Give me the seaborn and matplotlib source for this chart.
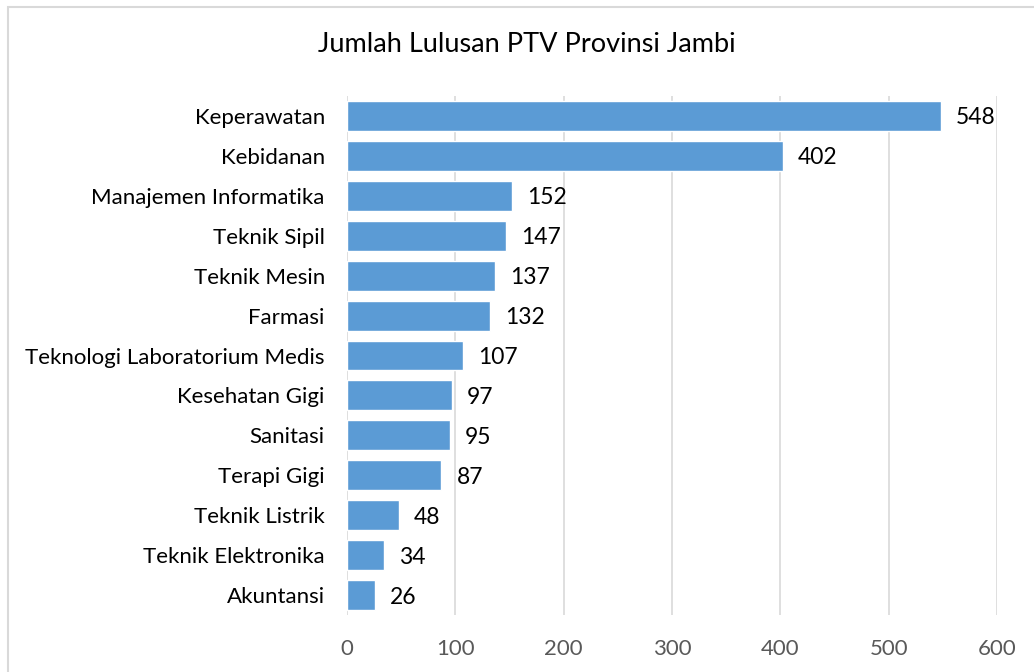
import matplotlib
matplotlib.use("Agg")
import matplotlib.pyplot as plt
import seaborn as sns
import pandas as pd
from matplotlib.patches import Rectangle

programs = ["Keperawatan", "Kebidanan", "Manajemen Informatika", "Teknik Sipil",
            "Teknik Mesin", "Farmasi", "Teknologi Laboratorium Medis", "Kesehatan Gigi",
            "Sanitasi", "Terapi Gigi", "Teknik Listrik", "Teknik Elektronika", "Akuntansi"]
graduates = [548, 402, 152, 147, 137, 132, 107, 97, 95, 87, 48, 34, 26]
x_ticks = [0, 100, 200, 300, 400, 500, 600]

sns.set_style("white")
plt.rcParams['font.family'] = ['Lato', 'DejaVu Sans']

df = pd.DataFrame({"program": programs, "lulusan": graduates})

fig = plt.figure(figsize=(10.34, 6.72), dpi=100)
ax = fig.add_axes([347/1034, 1 - 615/672, 650/1034, (615 - 96)/672])

sns.barplot(data=df, y="program", x="lulusan", color="#5B9BD5", saturation=1,
            width=0.75, ax=ax, zorder=3)

ax.set_xlim(0, 600)
ax.set_ylim(len(programs) - 0.5, -0.5)
ax.set_xticks(x_ticks)
ax.set_xticklabels([str(t) for t in x_ticks], fontsize=16, color="#595959")
ax.tick_params(axis="x", length=0, pad=17)
ax.tick_params(axis="y", length=0, pad=16, labelsize=16, labelcolor="black")
ax.grid(axis="x", color="#D9D9D9", linewidth=1.2, zorder=0)
for s in ax.spines.values():
    s.set_visible(False)
ax.set_xlabel("")
ax.set_ylabel("")

for i, v in enumerate(graduates):
    ax.text(v + 14, i + 0.05, str(v), va="center", ha="left", fontsize=16.5, color="black")

fig.text(527/1034, 1 - 45/672, "Jumlah Lulusan PTV Provinsi Jambi", ha="center",
         va="center", fontsize=19.5, color="black")

fig.patches.append(Rectangle((8/1034, -0.1), 1.2, 1 - 7/672 + 0.1,
                             transform=fig.transFigure, fill=False,
                             edgecolor="#D9D9D9", linewidth=1.5))

fig.savefig("out.png", dpi=100)
